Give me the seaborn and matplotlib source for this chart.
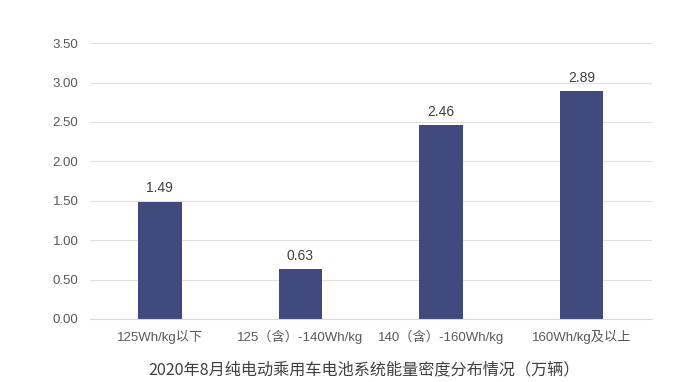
import matplotlib
matplotlib.use("Agg")
import matplotlib.pyplot as plt
import seaborn as sns
import pandas as pd

categories = ["125Wh/kg以下", "125（含）-140Wh/kg", "140（含）-160Wh/kg", "160Wh/kg及以上"]
values = [1.49, 0.63, 2.46, 2.89]
title = "2020年8月纯电动乘用车电池系统能量密度分布情况（万辆）"

sns.set_style("white")
plt.rcParams['font.family'] = ['Liberation Sans', 'Noto Sans CJK SC']

df = pd.DataFrame({"cat": categories, "val": values})

fig = plt.figure(figsize=(7, 3.82), dpi=100)
ax = fig.add_axes([0.128, 0.165, 0.803, 0.722])
sns.barplot(data=df, x="cat", y="val", color="#404a7c", width=0.31,
            saturation=1, linewidth=0, ax=ax)

ax.set_ylim(0, 3.5)
ax.set_yticks([i * 0.5 for i in range(8)])
ax.set_yticklabels([f"{i * 0.5:.2f}" for i in range(8)])
ax.yaxis.grid(True, color="#e0e0e0", linewidth=0.8)
ax.set_axisbelow(True)
for s in ["top", "right", "left"]:
    ax.spines[s].set_visible(False)
ax.spines["bottom"].set_color("#d9d9d9")
ax.tick_params(axis="both", colors="#595959", labelsize=9.5, length=0, pad=8)
ax.set_xlabel("")
ax.set_ylabel("")

for i, v in enumerate(values):
    ax.text(i, v + 0.08, f"{v:.2f}", ha="center", va="bottom", fontsize=10, color="#404040")

fig.text(0.52, 0.008, title, ha="center", va="bottom", fontsize=11.6, color="#404040",
         family=['Noto Sans CJK SC', 'DejaVu Sans'])

fig.savefig("out.png", dpi=100)
